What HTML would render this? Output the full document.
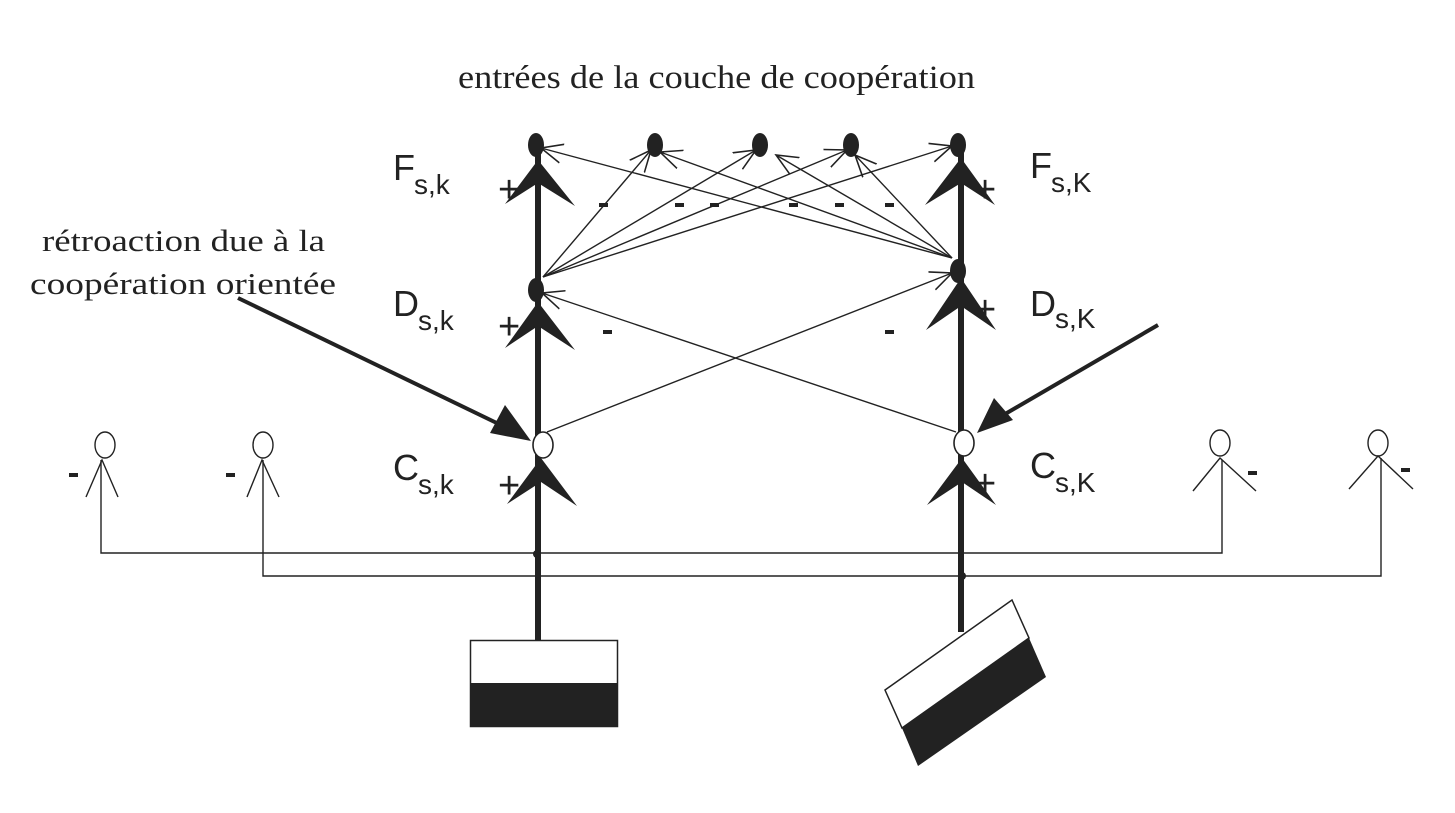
<!DOCTYPE html>
<html><head><meta charset="utf-8"><style>
html,body{margin:0;padding:0;background:#fff;}
svg{display:block;}
.s{font-family:"Liberation Sans",sans-serif;fill:#222;}
.r{font-family:"Liberation Serif",serif;fill:#222;}
</style></head><body>
<svg width="1455" height="813" viewBox="0 0 1455 813" xmlns="http://www.w3.org/2000/svg">
<defs>
<marker id="v" viewBox="0 0 20 20" refX="18" refY="10" markerWidth="24" markerHeight="24" markerUnits="userSpaceOnUse" orient="auto">
<path d="M0,2 L18,10 L0,18" fill="none" stroke="#222" stroke-width="1.3"/>
</marker>
</defs>
<rect width="1455" height="813" fill="#fff"/>
<text x="458" y="88" textLength="517" lengthAdjust="spacingAndGlyphs" class="r" font-size="33">entrées de la couche de coopération</text>
<text x="42" y="251" textLength="283" lengthAdjust="spacingAndGlyphs" class="r" font-size="31">rétroaction due à la</text>
<text x="30" y="294" textLength="306" lengthAdjust="spacingAndGlyphs" class="r" font-size="31">coopération orientée</text>

<line x1="538" y1="150" x2="538" y2="640" stroke="#222" stroke-width="6"/>
<line x1="961" y1="150" x2="961" y2="632" stroke="#222" stroke-width="6"/>

<g stroke="#222" stroke-width="1.4" fill="none" marker-end="url(#v)">
<line x1="543" y1="277" x2="651" y2="150"/>
<line x1="543" y1="277" x2="756" y2="150"/>
<line x1="543" y1="277" x2="847" y2="150"/>
<line x1="543" y1="277" x2="952" y2="146"/>
<line x1="952" y1="258" x2="541" y2="148"/>
<line x1="952" y1="258" x2="660" y2="152"/>
<line x1="952" y1="258" x2="776" y2="155"/>
<line x1="952" y1="258" x2="855" y2="155"/>
<line x1="547" y1="432" x2="952" y2="273"/>
<line x1="956" y1="432" x2="542" y2="293"/>
</g>

<g fill="#222">
<ellipse cx="536" cy="145" rx="8" ry="12"/>
<ellipse cx="655" cy="145" rx="8" ry="12"/>
<ellipse cx="760" cy="145" rx="8" ry="12"/>
<ellipse cx="851" cy="145" rx="8" ry="12"/>
<ellipse cx="958" cy="145" rx="8" ry="12"/>
<ellipse cx="536" cy="290" rx="8" ry="12"/>
<ellipse cx="958" cy="271" rx="8" ry="12"/>
</g>
<ellipse cx="543" cy="445" rx="10" ry="13" fill="#fff" stroke="#222" stroke-width="1.6"/>
<ellipse cx="964" cy="443" rx="10" ry="13" fill="#fff" stroke="#222" stroke-width="1.6"/>

<g fill="#222">
<path d="M538,160 L575,206 L538,183 L505,204 Z"/>
<path d="M538,302 L575,350 L538,326 L505,348 Z"/>
<path d="M541,458 L577,506 L541,482 L507,504 Z"/>
<path d="M961,158 L995,205 L961,183 L925,205 Z"/>
<path d="M961,278 L996,330 L961,306 L926,330 Z"/>
<path d="M962,458 L996,505 L962,482 L927,505 Z"/>
</g>

<g class="s" font-size="38">
<text x="498" y="202">+</text>
<text x="974" y="202">+</text>
<text x="498" y="339">+</text>
<text x="974" y="322">+</text>
<text x="498" y="498">+</text>
<text x="974" y="496">+</text>
</g>
<g fill="#222">
<rect x="599" y="203" width="9" height="4"/>
<rect x="675" y="203" width="9" height="4"/>
<rect x="710" y="203" width="9" height="4"/>
<rect x="789" y="203" width="9" height="4"/>
<rect x="835" y="203" width="9" height="4"/>
<rect x="885" y="203" width="9" height="4"/>
<rect x="603" y="330" width="9" height="4"/>
<rect x="885" y="330" width="9" height="4"/>
<rect x="69" y="473" width="9" height="4"/>
<rect x="226" y="473" width="9" height="4"/>
<rect x="1248" y="471" width="9" height="4"/>
<rect x="1401" y="468" width="9" height="4"/>
</g>

<g class="s">
<text x="393" y="180" font-size="36">F</text><text x="414" y="194" font-size="28">s,k</text>
<text x="393" y="316" font-size="36">D</text><text x="418" y="330" font-size="28">s,k</text>
<text x="393" y="480" font-size="36">C</text><text x="418" y="494" font-size="28">s,k</text>
<text x="1030" y="178" font-size="36">F</text><text x="1051" y="192" font-size="28">s,K</text>
<text x="1030" y="316" font-size="36">D</text><text x="1055" y="328" font-size="28">s,K</text>
<text x="1030" y="478" font-size="36">C</text><text x="1055" y="492" font-size="28">s,K</text>
</g>

<line x1="238" y1="298" x2="505" y2="427" stroke="#222" stroke-width="4"/>
<path d="M531,441 L490,433 L505,405 Z" fill="#222"/>
<line x1="1158" y1="325" x2="1000" y2="417" stroke="#222" stroke-width="4"/>
<path d="M977,433 L994,398 L1013,420 Z" fill="#222"/>

<g fill="none" stroke="#222" stroke-width="1.4">
<ellipse cx="105" cy="445" rx="10" ry="13"/>
<path d="M86,497 L102,460 L118,497"/>
<ellipse cx="263" cy="445" rx="10" ry="13"/>
<path d="M247,497 L262,460 L279,497"/>
<ellipse cx="1220" cy="443" rx="10" ry="13"/>
<path d="M1193,491 L1220,458 L1256,491"/>
<ellipse cx="1378" cy="443" rx="10" ry="13"/>
<path d="M1349,489 L1378,456 L1413,489"/>
<path d="M101,460 L101,553 L1222,553 L1222,460"/>
<path d="M263,460 L263,576 L1381,576 L1381,458"/>
</g>
<circle cx="537" cy="554" r="4" fill="#222"/>
<circle cx="962" cy="576" r="4" fill="#222"/>

<rect x="470.5" y="640.5" width="147" height="86" fill="#fff" stroke="#222" stroke-width="1.5"/>
<rect x="470" y="683" width="148" height="44" fill="#222"/>
<polygon points="885,690 1012,600 1029,638 902,728" fill="#fff" stroke="#222" stroke-width="1.5"/>
<polygon points="902,728 1029,638 1046,677 918,766" fill="#222"/>
</svg>
</body></html>
